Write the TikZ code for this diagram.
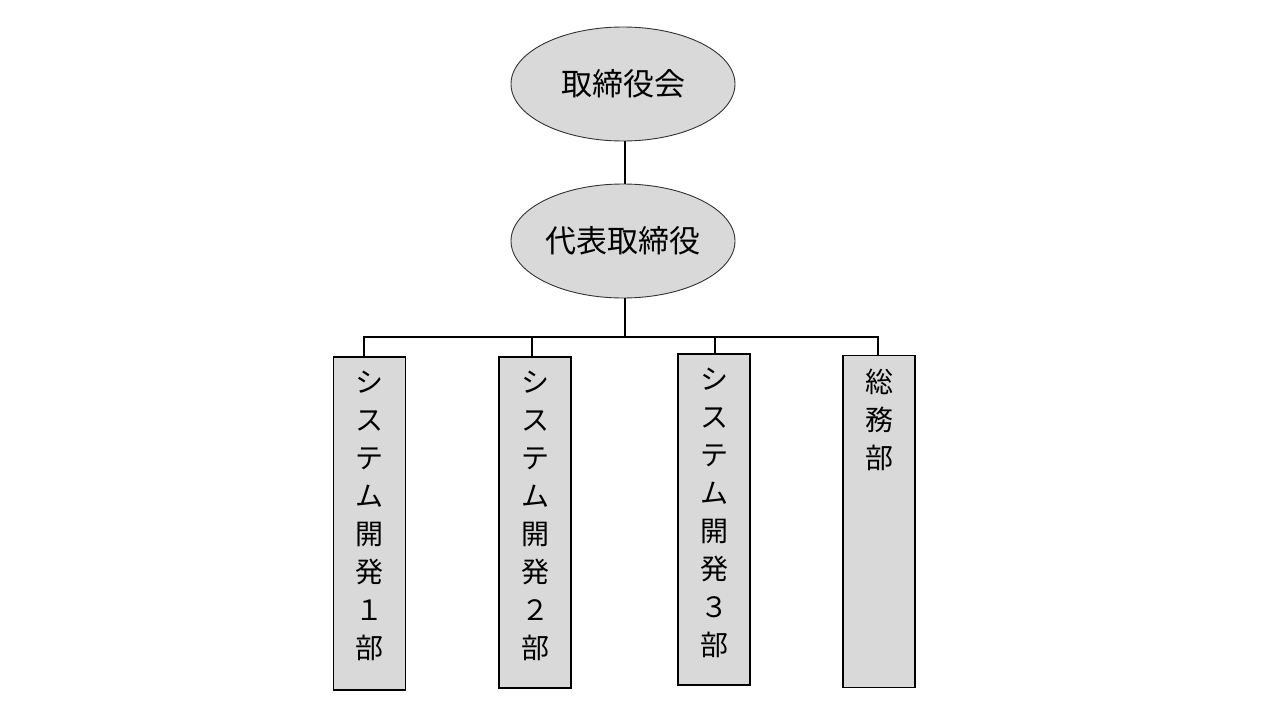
\documentclass[tikz,border=0pt]{standalone}
\usepackage{fontspec}
\setmainfont{Noto Sans CJK JP}
\usetikzlibrary{shapes.geometric}
\definecolor{boxgray}{HTML}{D9D9D9}

\begin{document}
\begin{tikzpicture}[x=1pt, y=-1pt,
	post/.style={ellipse, draw=black!80, fill=boxgray, line width=0.9pt, minimum width=224pt, minimum height=114pt, inner sep=0pt, font=\fontsize{31}{36}\selectfont},
	dept/.style={rectangle, draw=black, fill=boxgray, line width=1.2pt, minimum width=72pt, inner sep=0pt},
	vtext/.style={align=center, inner sep=0pt, anchor=north, font=\fontsize{28}{38}\selectfont},
	link/.style={line width=1.8pt}]
	\useasboundingbox (0,0) rectangle (1280,720);
	\node[post] (board) at (623,84) {取締役会};
	\node[post] (ceo) at (623,241) {代表取締役};
	\node[dept, minimum height=333pt] (dev1) at (369.5,523.5) {};
	\node[dept, minimum height=331pt] (dev2) at (535,522.5) {};
	\node[dept, minimum height=331pt] (dev3) at (714,519.5) {};
	\node[dept, minimum height=332pt] (admin) at (879,521.5) {};
	\node[vtext] (dev1t) at ([yshift=-14pt]dev1.north) {シ\\ス\\テ\\ム\\開\\発\\１\\部};
	\node[vtext] (dev2t) at ([yshift=-14pt]dev2.north) {シ\\ス\\テ\\ム\\開\\発\\２\\部};
	\node[vtext] (dev3t) at ([yshift=-14pt]dev3.north) {シ\\ス\\テ\\ム\\開\\発\\３\\部};
	\node[vtext] (admint) at ([yshift=-14pt]admin.north) {総\\務\\部};
	\coordinate (bus) at (625,337);
	\draw[link] (board.south -| bus) -- (ceo.north -| bus);
	\draw[link] (ceo.south -| bus) -- (bus);
	\draw[link] ([xshift=-5.5pt]dev1.north) |- (bus) -| ([xshift=-1pt]admin.north);
	\draw[link] ([xshift=-3pt]dev2.north) -- ([xshift=-3pt]dev2.north |- bus);
	\draw[link] ([xshift=1pt]dev3.north) -- ([xshift=1pt]dev3.north |- bus);
\end{tikzpicture}
\end{document}
